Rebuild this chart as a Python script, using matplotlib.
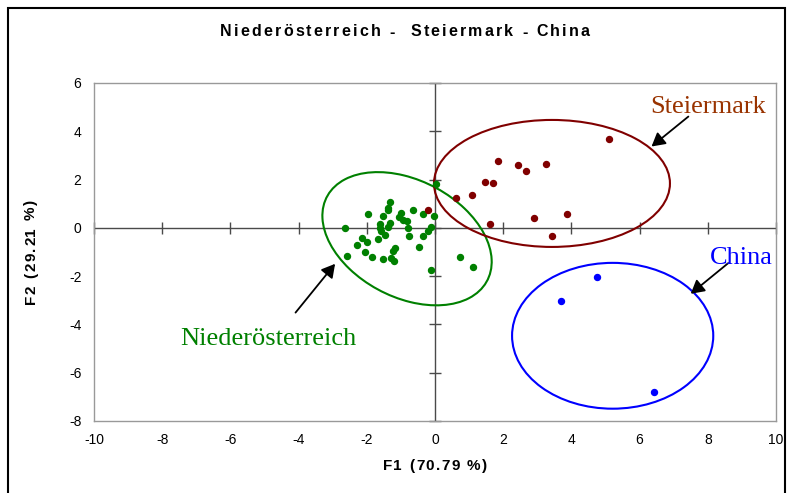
import matplotlib
matplotlib.use("Agg")
import matplotlib.pyplot as plt
from matplotlib.patches import Ellipse, Rectangle

plt.rcParams['font.family'] = ['Liberation Sans', 'DejaVu Sans']
plt.rcParams['axes.unicode_minus'] = False

# PCA scores (F1, F2) per region
noe_f1 = [-2.64, -1.32, -1.37, -1.39, -1.96, -1.52, -0.65, -1.00, -1.05, -0.95,
          -0.83, -0.36, -0.02, -1.61, -1.32, -1.61, -1.37, -1.59, -0.80, -0.12,
          -0.20, -1.47, -2.15, -2.00, -1.68, -0.75, -0.36, -2.30, -0.46, -1.17,
          -1.24, -2.05, -2.57, -1.86, -1.52, -1.29, -1.19, -0.12, 0.74, 1.12,
          0.02]
noe_f2 = [-0.01, 1.09, 0.84, 0.75, 0.57, 0.51, 0.75, 0.61, 0.43, 0.33,
          0.29, 0.57, 0.51, 0.15, 0.19, -0.01, 0.03, -0.15, -0.01, 0.05,
          -0.12, -0.29, -0.40, -0.57, -0.47, -0.33, -0.33, -0.70, -0.80, -0.84,
          -0.94, -1.01, -1.15, -1.19, -1.30, -1.23, -1.39, -1.75, -1.20, -1.64,
          1.82]

stm_f1 = [5.11, 1.85, 2.42, 3.25, 2.67, 1.47, 1.71, 1.08, 0.61, -0.21,
          1.61, 2.90, 3.86, 3.44]
stm_f2 = [3.69, 2.78, 2.61, 2.66, 2.37, 1.92, 1.86, 1.35, 1.24, 0.73,
          0.17, 0.39, 0.57, -0.34]

chn_f1 = [4.74, 3.69, 6.41]
chn_f2 = [-2.03, -3.01, -6.79]

x_ticks = [-10, -8, -6, -4, -2, 0, 2, 4, 6, 8, 10]
y_ticks = [-8, -6, -4, -2, 0, 2, 4, 6]

title = "Niederösterreich -  Steiermark - China"
x_label = "F1 (70.79 %)"
y_label = "F2 (29.21 %)"

C_NOE = '#008000'
C_STM = '#800000'
C_STM_TXT = '#993300'
C_CHN = '#0000FF'
AXIS_GREY = '#4a4a4a'

W, H = 791, 493
fig = plt.figure(figsize=(W / 100, H / 100), dpi=100)
ax = fig.add_axes([94 / W, 1 - 421 / H, (776 - 94) / W, (421 - 83) / H])

ax.set_xlim(x_ticks[0], x_ticks[-1])
ax.set_ylim(y_ticks[0], y_ticks[-1])
ax.set_xticks(x_ticks)
ax.set_yticks(y_ticks)
ax.tick_params(length=0, labelsize=10, pad=9)
for sp in ax.spines.values():
    sp.set_color('#999999')
    sp.set_linewidth(1.0)

# axes crossing at the origin, with cross ticks
ax.axhline(0, color=AXIS_GREY, lw=1.0, zorder=1)
ax.axvline(0, color=AXIS_GREY, lw=1.0, zorder=1)
ax.plot(x_ticks, [0] * len(x_ticks), ls='none', marker='|', ms=8,
        mew=1.0, color=AXIS_GREY, zorder=1, clip_on=False)
ax.plot([0] * len(y_ticks), y_ticks, ls='none', marker='_', ms=8,
        mew=1.0, color=AXIS_GREY, zorder=1, clip_on=False)

ax.plot(noe_f1, noe_f2, ls='none', marker='o', ms=4.3, color=C_NOE, zorder=3)
ax.plot(stm_f1, stm_f2, ls='none', marker='o', ms=4.3, color=C_STM, zorder=3)
ax.plot(chn_f1, chn_f2, ls='none', marker='o', ms=4.3, color=C_CHN, zorder=3)

# group ellipses
ax.add_patch(Ellipse((-0.82, -0.45), 2 * 3.06, 2 * 2.10, angle=126.5,
                     fill=False, ec=C_NOE, lw=1.5, zorder=2))
ax.add_patch(Ellipse((3.43, 1.84), 2 * 3.46, 2 * 2.63, angle=0,
                     fill=False, ec=C_STM, lw=1.5, zorder=2))
ax.add_patch(Ellipse((5.21, -4.47), 2 * 2.95, 2 * 3.02, angle=0,
                     fill=False, ec=C_CHN, lw=1.5, zorder=2))

# group labels with arrows
arrow = dict(arrowstyle='-|>,head_length=0.8,head_width=0.45', color='black',
             lw=1.3, shrinkA=0, shrinkB=0)
serif = ['Liberation Serif', 'DejaVu Serif']
ax.annotate('', xy=(6.35, 3.37), xytext=(7.43, 4.61), arrowprops=arrow)
ax.annotate('', xy=(7.50, -2.73), xytext=(8.60, -1.46), arrowprops=arrow)
ax.annotate('', xy=(-2.93, -1.49), xytext=(-4.09, -3.51), arrowprops=arrow)
ax.text(8.01, 5.01, 'Steiermark', family=serif, fontsize=19, color=C_STM_TXT,
        ha='center', va='center')
ax.text(8.97, -1.24, 'China', family=serif, fontsize=19, color=C_CHN,
        ha='center', va='center')
ax.text(-4.90, -4.60, 'Niederösterreich', family=serif, fontsize=19,
        color=C_NOE, ha='center', va='center')


def spaced_text(x, y, s, spacing, rotation=0, **kw):
    """Draw s centred at figure pixel (x, y) with extra letter spacing."""
    r = fig.canvas.get_renderer()

    def width(t):
        tt = fig.text(0, 0, t + 'l', **kw)
        tl = fig.text(0, 0, 'l', **kw)
        w = tt.get_window_extent(r).width - tl.get_window_extent(r).width
        tt.remove()
        tl.remove()
        return w

    adv = [width(s[:i]) + i * spacing for i in range(len(s) + 1)]
    total = adv[-1] - spacing
    for i, ch in enumerate(s):
        if ch == ' ':
            continue
        off = adv[i] - total / 2
        if rotation == 90:
            fig.text(x / W, 1 - (y - off) / H, ch, rotation=90,
                     ha='center', va='bottom', **kw)
        else:
            fig.text((x + off) / W, 1 - y / H, ch, ha='left', va='center',
                     **kw)


spaced_text(405, 32, title, 2.2, fontsize=11.5, fontweight='bold')
spaced_text(435, 466, x_label, 1.5, fontsize=11, fontweight='bold')
spaced_text(31, 252, y_label, 1.5, rotation=90, fontsize=11,
            fontweight='bold')

# outer frame
fig.add_artist(Rectangle((8 / W, -0.05), (785 - 8) / W, 1.05 - 8 / H,
                         transform=fig.transFigure, fill=False,
                         ec='black', lw=1.5))

fig.savefig('out.png', dpi=100)
